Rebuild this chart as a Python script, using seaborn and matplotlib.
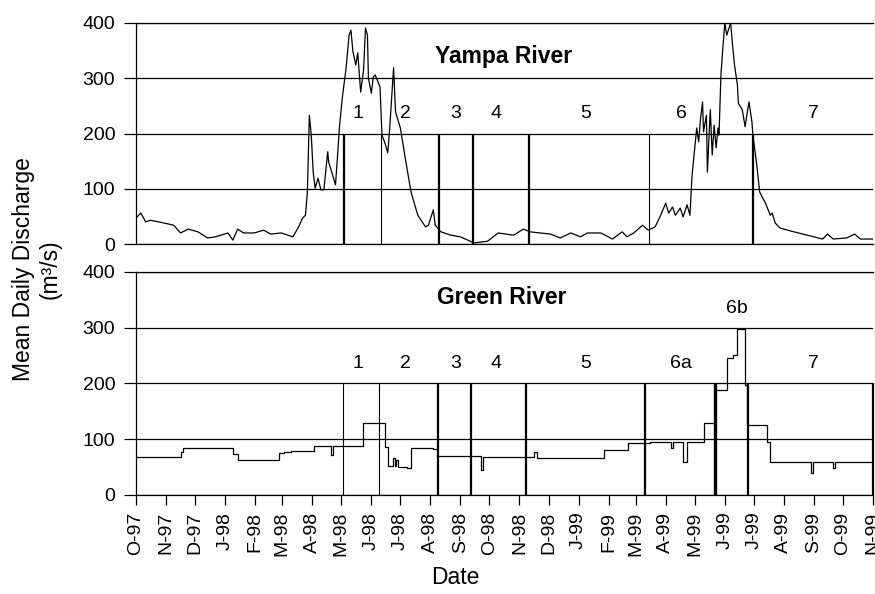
import pandas as pd
import matplotlib
matplotlib.use('Agg')
import matplotlib.pyplot as plt
import seaborn as sns

# Mean daily discharge (m3/s)
yampa_readings = [
    ('1997-10-01', 47), ('1997-10-06', 56), ('1997-10-11', 40), ('1997-10-16', 43),
    ('1997-10-30', 38), ('1997-11-09', 34), ('1997-11-16', 20), ('1997-11-24', 27),
    ('1997-12-04', 22), ('1997-12-14', 11), ('1997-12-22', 13), ('1998-01-04', 20),
    ('1998-01-09', 7), ('1998-01-14', 27), ('1998-01-20', 20), ('1998-01-31', 20),
    ('1998-02-10', 25), ('1998-02-17', 18), ('1998-02-28', 20), ('1998-03-12', 13),
    ('1998-03-18', 31), ('1998-03-22', 47), ('1998-03-25', 52), ('1998-03-27', 94),
    ('1998-03-29', 233), ('1998-03-31', 197), ('1998-04-02', 130), ('1998-04-04', 101),
    ('1998-04-07', 119), ('1998-04-10', 98), ('1998-04-13', 98), ('1998-04-17', 167),
    ('1998-04-18', 148), ('1998-04-22', 125), ('1998-04-25', 107), ('1998-04-27', 156),
    ('1998-04-29', 210), ('1998-05-02', 264), ('1998-05-06', 319), ('1998-05-09', 378),
    ('1998-05-11', 387), ('1998-05-13', 348), ('1998-05-16', 324), ('1998-05-18', 346),
    ('1998-05-21', 275), ('1998-05-24', 315), ('1998-05-26', 391), ('1998-05-28', 378),
    ('1998-05-29', 300), ('1998-06-01', 273), ('1998-06-03', 302), ('1998-06-05', 306),
    ('1998-06-08', 293), ('1998-06-10', 284), ('1998-06-12', 197), ('1998-06-15', 183),
    ('1998-06-18', 165), ('1998-06-20', 210), ('1998-06-24', 319), ('1998-06-26', 239),
    ('1998-07-01', 210), ('1998-07-06', 156), ('1998-07-12', 94), ('1998-07-19', 52),
    ('1998-07-27', 31), ('1998-07-30', 34), ('1998-08-04', 62), ('1998-08-06', 34),
    ('1998-08-12', 22), ('1998-08-22', 16), ('1998-09-01', 13), ('1998-09-15', 2),
    ('1998-09-29', 5), ('1998-10-10', 20), ('1998-10-26', 16), ('1998-11-05', 27),
    ('1998-11-12', 22), ('1998-12-03', 18), ('1998-12-13', 11), ('1998-12-24', 20),
    ('1999-01-03', 13), ('1999-01-10', 20), ('1999-01-24', 20), ('1999-02-05', 9),
    ('1999-02-15', 22), ('1999-02-20', 13), ('1999-02-27', 20), ('1999-03-08', 34),
    ('1999-03-14', 25), ('1999-03-21', 31), ('1999-03-26', 49), ('1999-04-01', 74),
    ('1999-04-04', 56), ('1999-04-08', 67), ('1999-04-11', 52), ('1999-04-16', 65),
    ('1999-04-19', 49), ('1999-04-23', 71), ('1999-04-26', 52), ('1999-04-28', 119),
    ('1999-04-29', 139), ('1999-05-03', 210), ('1999-05-05', 185), ('1999-05-07', 228),
    ('1999-05-09', 257), ('1999-05-10', 203), ('1999-05-13', 233), ('1999-05-14', 130),
    ('1999-05-17', 243), ('1999-05-19', 161), ('1999-05-21', 215), ('1999-05-23', 174),
    ('1999-05-25', 210), ('1999-05-26', 197), ('1999-05-28', 306), ('1999-05-30', 355),
    ('1999-06-01', 400), ('1999-06-03', 378), ('1999-06-07', 400), ('1999-06-09', 360),
    ('1999-06-11', 324), ('1999-06-14', 288), ('1999-06-15', 255), ('1999-06-19', 243),
    ('1999-06-22', 212), ('1999-06-24', 237), ('1999-06-26', 257), ('1999-06-29', 221),
    ('1999-06-30', 197), ('1999-07-04', 143), ('1999-07-07', 94), ('1999-07-13', 74),
    ('1999-07-18', 52), ('1999-07-20', 56), ('1999-07-23', 38), ('1999-07-28', 29),
    ('1999-08-07', 24), ('1999-08-16', 20), ('1999-08-25', 16), ('1999-09-10', 9),
    ('1999-09-15', 18), ('1999-09-21', 9), ('1999-10-05', 11), ('1999-10-13', 18),
    ('1999-10-19', 9), ('1999-11-01', 9),
]

# Green River is regulated: discharge changes in steps
green_readings = [
    ('1997-10-01', 68), ('1997-11-16', 77), ('1997-11-19', 85), ('1998-01-09', 73),
    ('1998-01-14', 63), ('1998-02-26', 75), ('1998-03-03', 77), ('1998-03-10', 79),
    ('1998-04-03', 88), ('1998-04-20', 71), ('1998-04-22', 88), ('1998-05-23', 129),
    ('1998-06-15', 86), ('1998-06-18', 52), ('1998-06-23', 66), ('1998-06-25', 52),
    ('1998-06-27', 62), ('1998-06-29', 50), ('1998-07-08', 48), ('1998-07-12', 84),
    ('1998-08-04', 82), ('1998-08-08', 70), ('1998-09-22', 45), ('1998-09-24', 68),
    ('1998-11-16', 77), ('1998-11-19', 66), ('1999-01-27', 81), ('1999-02-21', 93),
    ('1999-03-16', 95), ('1999-04-06', 84), ('1999-04-09', 95), ('1999-04-19', 59),
    ('1999-04-23', 95), ('1999-05-10', 129), ('1999-05-22', 188), ('1999-06-03', 246),
    ('1999-06-09', 251), ('1999-06-14', 298), ('1999-06-22', 197), ('1999-06-24', 125),
    ('1999-07-15', 95), ('1999-07-18', 59), ('1999-08-29', 39), ('1999-08-31', 59),
    ('1999-09-21', 48), ('1999-09-23', 60), ('1999-11-01', 58),
]

month_labels = ['O-97', 'N-97', 'D-97', 'J-98', 'F-98', 'M-98', 'A-98', 'M-98', 'J-98',
                'J-98', 'A-98', 'S-98', 'O-98', 'N-98', 'D-98', 'J-99', 'F-99', 'M-99',
                'A-99', 'M-99', 'J-99', 'J-99', 'A-99', 'S-99', 'O-99', 'N-99']

# phase boundaries
yampa_major = ['1998-05-04', '1998-08-10', '1998-09-14', '1998-11-11', '1999-06-30']
yampa_minor = ['1998-06-11', '1999-03-15']
green_major = ['1998-08-09', '1998-09-12', '1998-11-08', '1999-03-11', '1999-06-25', '1999-11-01']
green_minor = ['1998-05-03', '1998-06-09']
green_heavy = ['1999-05-22']

yampa_phases = ['1', '2', '3', '4', '5', '6', '7']
yampa_phase_dates = ['1998-05-18', '1998-07-06', '1998-08-27', '1998-10-08',
                     '1999-01-08', '1999-04-17', '1999-09-01']
green_phases = ['1', '2', '3', '4', '5', '6a', '7']
green_phase_dates = ['1998-05-18', '1998-07-06', '1998-08-27', '1998-10-08',
                     '1999-01-08', '1999-04-17', '1999-09-01']
green_peak_phase = '6b'
green_peak_date = '1999-06-13'

yampa = pd.DataFrame(yampa_readings, columns=['date', 'q'])
yampa['date'] = pd.to_datetime(yampa['date'])
green = pd.DataFrame(green_readings, columns=['date', 'q'])
green['date'] = pd.to_datetime(green['date'])

sns.set_theme(style='ticks')
plt.rcParams['font.family'] = ['Liberation Sans', 'DejaVu Sans']
plt.rcParams['text.color'] = 'black'
plt.rcParams['xtick.color'] = 'black'
plt.rcParams['ytick.color'] = 'black'
plt.rcParams['axes.labelcolor'] = 'black'

fig = plt.figure(figsize=(8.75, 5.94), dpi=100)
ax1 = fig.add_axes([0.1554, 0.5892, 0.8423, 0.3721])
ax2 = fig.add_axes([0.1554, 0.1667, 0.8423, 0.3754])

sns.lineplot(data=yampa, x='date', y='q', ax=ax1, color='black', lw=0.9, estimator=None)
sns.lineplot(data=green, x='date', y='q', ax=ax2, color='black', lw=0.9, estimator=None,
             drawstyle='steps-post')

start, end = pd.Timestamp('1997-10-01'), pd.Timestamp('1999-11-01')
for ax in (ax1, ax2):
    ax.set_xlim(start, end)
    ax.set_ylim(0, 400)
    ax.set_yticks([0, 100, 200, 300, 400])
    ax.grid(axis='y', color='black', lw=0.9)
    ax.grid(axis='x', visible=False)
    ax.set_xlabel('')
    ax.set_ylabel('')
    ax.spines['right'].set_visible(False)
    for s in ('left', 'bottom', 'top'):
        ax.spines[s].set_color('black')
        ax.spines[s].set_linewidth(0.9)
    ax.tick_params(axis='y', length=9, width=0.9, pad=6, labelsize=14,
                   color='black', labelcolor='black')

ax1.tick_params(axis='x', bottom=False, labelbottom=False)

ticks = pd.date_range(start, end, freq='MS')
ax2.set_xticks(ticks)
ax2.set_xticklabels(month_labels, rotation=90)
ax2.tick_params(axis='x', length=7, width=0.9, pad=5, labelsize=14,
                color='black', labelcolor='black')

# phase boundaries
ax1.vlines(pd.to_datetime(yampa_major), 0, 200, color='black', lw=1.6)
ax1.vlines(pd.to_datetime(yampa_minor), 0, 200, color='black', lw=0.8)
ax2.vlines(pd.to_datetime(green_major), 0, 200, color='black', lw=1.6, clip_on=False)
ax2.vlines(pd.to_datetime(green_minor), 0, 200, color='black', lw=0.8)
ax2.vlines(pd.to_datetime(green_heavy), 0, 200, color='black', lw=2.4)

for lab, d in zip(yampa_phases, yampa_phase_dates):
    ax1.text(pd.Timestamp(d), 228, lab, ha='center', va='baseline', fontsize=14)
for lab, d in zip(green_phases, green_phase_dates):
    ax2.text(pd.Timestamp(d), 228, lab, ha='center', va='baseline', fontsize=14)
ax2.text(pd.Timestamp(green_peak_date), 327, green_peak_phase, ha='center',
         va='baseline', fontsize=14)

ax1.text(pd.Timestamp('1998-08-06'), 328, 'Yampa River', ha='left', va='baseline',
         fontsize=16.5, fontweight='bold')
ax2.text(pd.Timestamp('1998-08-08'), 343, 'Green River', ha='left', va='baseline',
         fontsize=16.5, fontweight='bold')

fig.text(0.042, 0.547, 'Mean Daily Discharge\n(m³/s)', rotation=90, ha='center',
         va='center', multialignment='center', fontsize=16.5)
fig.text(0.52, 0.027, 'Date', ha='center', va='center', fontsize=16.5)

fig.savefig('out.png', dpi=100)
